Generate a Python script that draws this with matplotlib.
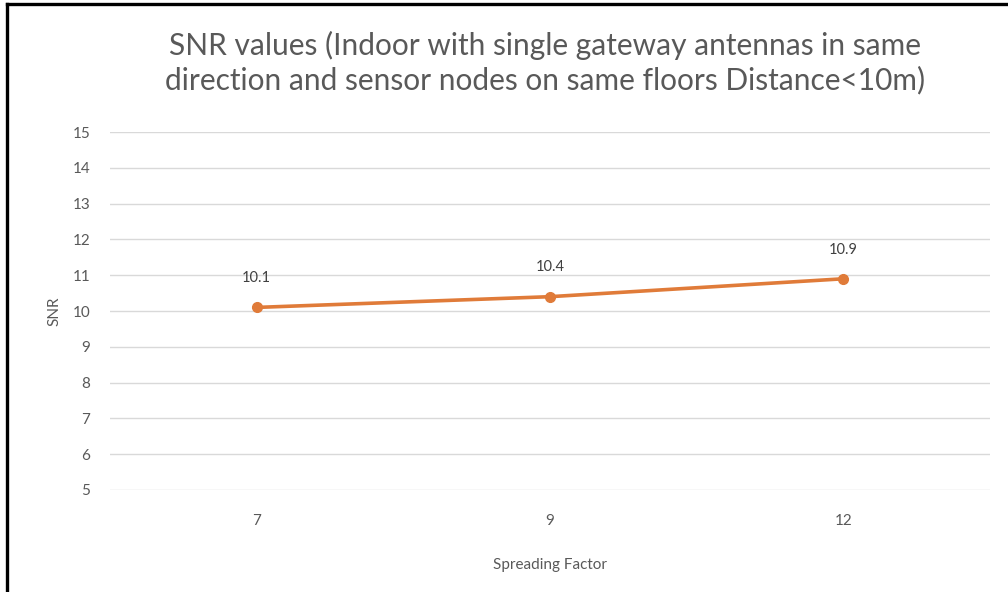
"""SNR versus spreading factor, indoor single-gateway measurements."""

import matplotlib.pyplot as plt
from matplotlib.lines import Line2D

SPREADING_FACTORS = ["7", "9", "12"]
SNR_VALUES = [10.1, 10.4, 10.9]
Y_TICKS = list(range(5, 16))

TEXT_COLOR = "#595959"
LINE_COLOR = "#E07B39"
GRID_COLOR = "#D9D9D9"

plt.rcParams["font.family"] = ["Lato", "DejaVu Sans"]

fig = plt.figure(figsize=(10.08, 5.92), dpi=100)
ax = fig.add_axes([0.109, 0.1723, 0.873, 0.6047])

positions = list(range(len(SPREADING_FACTORS)))
ax.plot(
    positions,
    SNR_VALUES,
    color=LINE_COLOR,
    linewidth=2.6,
    marker="o",
    markersize=7,
    solid_capstyle="round",
    zorder=3,
)
for x, value in zip(positions, SNR_VALUES):
    ax.annotate(
        f"{value:.1f}",
        (x, value),
        xytext=(0, 16),
        textcoords="offset points",
        ha="center",
        va="bottom",
        fontsize=10.5,
        color="#404040",
    )

ax.set_xlim(-0.5, len(SPREADING_FACTORS) - 0.5)
ax.set_ylim(Y_TICKS[0], Y_TICKS[-1])
ax.set_xticks(positions)
ax.set_xticklabels(SPREADING_FACTORS)
ax.set_yticks(Y_TICKS)
ax.tick_params(length=0, labelsize=11, colors=TEXT_COLOR, pad=14)
ax.tick_params(axis="x", pad=17)
ax.grid(axis="y", color=GRID_COLOR, linewidth=1)
ax.set_axisbelow(True)
for spine in ax.spines.values():
    spine.set_visible(False)

ax.set_xlabel("Spreading Factor", fontsize=11, color=TEXT_COLOR, labelpad=22)
ax.set_ylabel("SNR", fontsize=11, color=TEXT_COLOR, labelpad=8)

fig.text(
    0.541,
    0.894,
    "SNR values (Indoor with single gateway antennas in same\n"
    "direction and sensor nodes on same floors Distance<10m)",
    ha="center",
    va="center",
    fontsize=21.5,
    color=TEXT_COLOR,
    linespacing=1.25,
)

# frame edges along the top and left of the figure
fig.add_artist(Line2D([0.007, 1.0], [0.993, 0.993], color="black", linewidth=2.4))
fig.add_artist(Line2D([0.007, 0.007], [0.0, 0.993], color="black", linewidth=2.4))

fig.savefig("out.png", dpi=100)
